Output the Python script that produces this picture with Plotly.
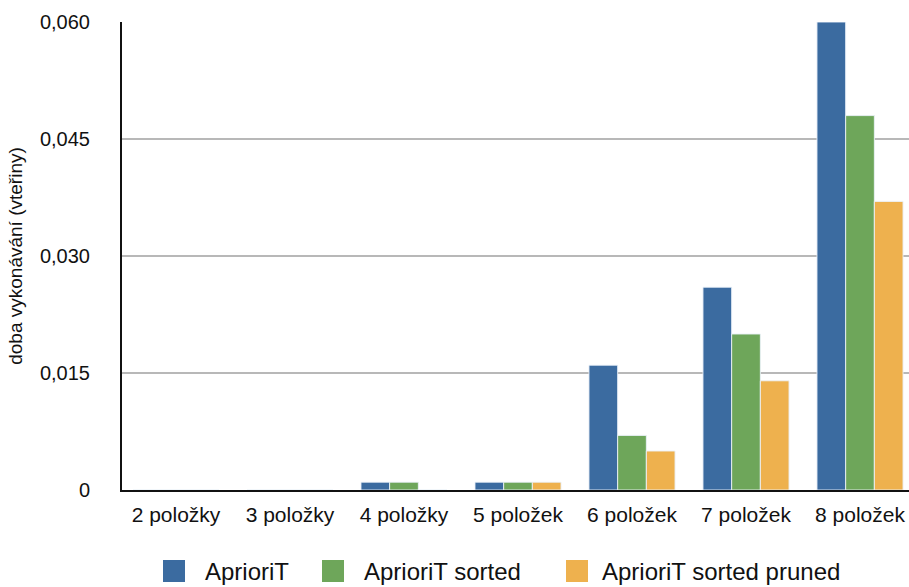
import plotly.graph_objects as go

# Execution time of the three Apriori variants by number of items
categories = ["2 položky", "3 položky", "4 položky", "5 položek",
              "6 položek", "7 položek", "8 položek"]
series_names = ["AprioriT", "AprioriT sorted", "AprioriT sorted pruned"]
apriori_t = [0.0, 0.0, 0.001, 0.001, 0.016, 0.026, 0.060]
apriori_t_sorted = [0.0, 0.0, 0.001, 0.001, 0.007, 0.020, 0.048]
apriori_t_sorted_pruned = [0.0, 0.0, 0.0, 0.001, 0.005, 0.014, 0.037]
y_tick_values = [0, 0.015, 0.030, 0.045, 0.060]
y_tick_labels = ["0", "0,015", "0,030", "0,045", "0,060"]

colors = ["#3b6ba0", "#6ea65a", "#eeb14e"]
series_values = [apriori_t, apriori_t_sorted, apriori_t_sorted_pruned]

W, H = 909, 587
M_L, M_R, M_T, M_B = 122, 0, 22, 97
FONT = "Liberation Sans, Arial, Helvetica, sans-serif"

fig = go.Figure()
for name, vals, col in zip(series_names, series_values, colors):
    fig.add_trace(go.Bar(
        x=categories, y=vals, name=name,
        marker=dict(color=col, line=dict(color="rgba(235,242,250,0.9)", width=1)),
        showlegend=False,
    ))

# Legend drawn as coloured squares with labels below the plot
plot_w = W - M_L - M_R
plot_h = H - M_T - M_B


def px_x(px):
    return (px - M_L) / plot_w


def px_y(py):
    return (H - M_B - py) / plot_h


legend_square_left = [163, 322, 566]
legend_text_left = [203, 362, 600]
sq = 22
cy = 571
shapes = []
annotations = []
for name, col, sx, tx in zip(series_names, colors, legend_square_left, legend_text_left):
    shapes.append(dict(type="rect", xref="paper", yref="paper",
                       x0=px_x(sx), x1=px_x(sx + sq),
                       y0=px_y(cy + sq / 2), y1=px_y(cy - sq / 2),
                       fillcolor=col, line=dict(width=0), layer="above"))
    annotations.append(dict(text=name, xref="paper", yref="paper",
                            x=px_x(tx), y=px_y(cy), xanchor="left", yanchor="middle",
                            showarrow=False, font=dict(size=24, color="#111", family=FONT)))

# category spacing ~114 px, first centre at 176 px
spacing = 114.0
x0 = (M_L - (176 - 0 * spacing)) / spacing
x1 = x0 + plot_w / spacing

fig.update_layout(
    width=W, height=H,
    margin=dict(l=M_L, r=M_R, t=M_T, b=M_B),
    paper_bgcolor="white", plot_bgcolor="white",
    barmode="group", bargap=0.245, bargroupgap=0.0,
    font=dict(family=FONT, color="#111", size=19),
    shapes=shapes, annotations=annotations,
    xaxis=dict(
        range=[x0, x1], showgrid=False, zeroline=False,
        showline=True, linecolor="#111", linewidth=2,
        ticks="", tickfont=dict(size=21), ticklabelstandoff=5,
    ),
    yaxis=dict(
        range=[0, 0.060], tickvals=y_tick_values, ticktext=y_tick_labels,
        showgrid=True, gridcolor="#b8b8b8", gridwidth=1.5,
        zeroline=False, showline=True, linecolor="#111", linewidth=2,
        ticks="", tickfont=dict(size=20), ticklabelstandoff=26,
        title=dict(text="doba vykonávání (vteřiny)", font=dict(size=19), standoff=12),
    ),
)

fig.write_html("out.html")
